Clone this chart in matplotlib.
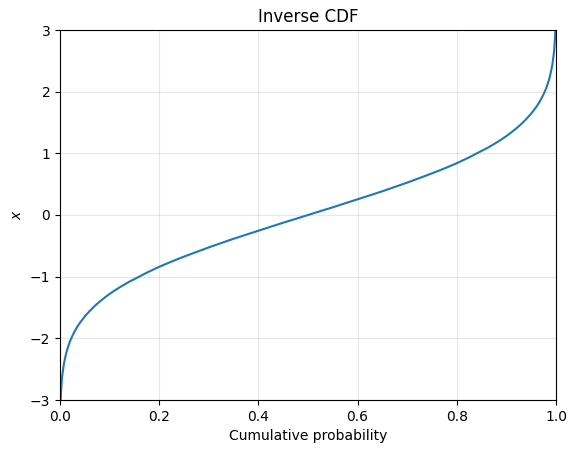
import matplotlib
matplotlib.use("Agg")
import matplotlib.pyplot as plt

# Values (cumulative probability -> x)
prob_lower = [0.0010, 0.0013, 0.0020, 0.0030, 0.0040, 0.0050, 0.0075, 0.010, 0.0125,
              0.015, 0.020, 0.025, 0.030, 0.035, 0.040, 0.050, 0.060, 0.070,
              0.080, 0.090, 0.100, 0.110, 0.125, 0.140, 0.150, 0.175, 0.200,
              0.225, 0.250, 0.275, 0.300, 0.325, 0.350, 0.375, 0.400, 0.425,
              0.450, 0.475, 0.500]
x_lower = [-3.09, -3.00, -2.88, -2.75, -2.65, -2.58, -2.43, -2.33, -2.24,
           -2.17, -2.05, -1.96, -1.88, -1.81, -1.75, -1.645, -1.555, -1.475,
           -1.405, -1.34, -1.28, -1.225, -1.15, -1.08, -1.04, -0.935, -0.84,
           -0.755, -0.675, -0.60, -0.525, -0.455, -0.385, -0.32, -0.255, -0.19,
           -0.125, -0.063, 0.0]

prob = prob_lower + [1 - p for p in reversed(prob_lower[:-1])]
xvals = x_lower + [-v for v in reversed(x_lower[:-1])]

fig, ax = plt.subplots(figsize=(5.76, 4.53), dpi=100)
fig.subplots_adjust(left=60/576, right=556/576, top=1-30/453, bottom=1-400/453)
ax.plot(prob, xvals, color="#1f77b4", lw=1.5)
ax.set_xlim(0, 1)
ax.set_ylim(-3, 3)
ax.grid(True, alpha=0.3)
ax.set_title("Inverse CDF")
ax.set_xlabel("Cumulative probability")
ax.set_ylabel("$x$")
fig.savefig("out.png", dpi=100)
